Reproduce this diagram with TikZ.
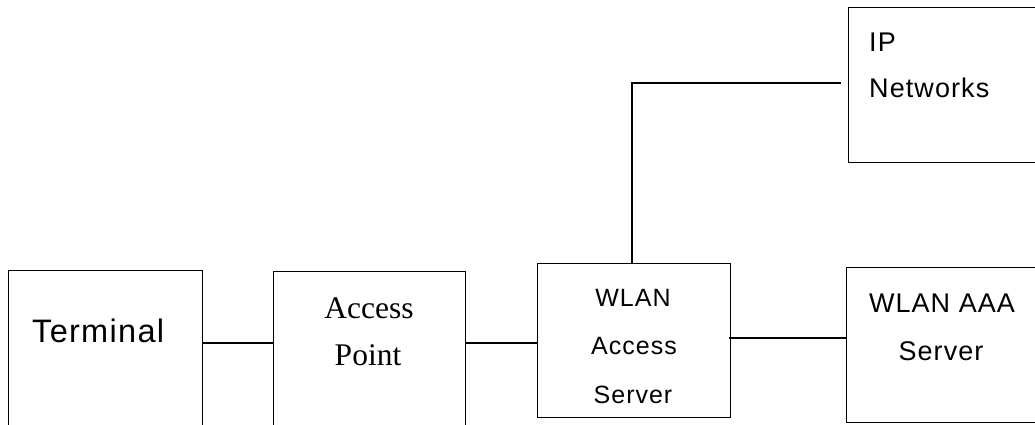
\documentclass[tikz,border=0pt]{standalone}
\usepackage{fontspec}
\setmainfont{Liberation Serif}
\setsansfont{Liberation Sans}[LetterSpace=4]
\begin{document}
\begin{tikzpicture}[x=1pt,y=-1pt,
  box/.style={draw=black,line width=1.3pt,anchor=north west,inner sep=0pt},
  link/.style={draw=black,line width=1.3pt},
  sanslbl/.style={anchor=base,inner sep=0pt,font=\sffamily\fontsize{27}{32}\selectfont},
  wasfont/.style={font=\sffamily\fontsize{25}{30}\selectfont},
  seriflbl/.style={anchor=base,inner sep=0pt,font=\rmfamily\fontsize{31.5}{36}\selectfont}]
\clip (0,0) rectangle (1035,425);
\fill[white] (0,0) rectangle (1035,425);
% boxes
\node[box,minimum width=194pt,minimum height=175pt] (term) at (8,270) {};
\node[box,minimum width=192pt,minimum height=175pt] (ap) at (273,271) {};
\node[box,minimum width=193pt,minimum height=154pt] (was) at (537,263) {};
\node[box,minimum width=205pt,minimum height=155pt] (aaa) at (846,267) {};
\node[box,minimum width=205pt,minimum height=155pt] (ip) at (848,7) {};
% texts
\node[sanslbl,anchor=base west,font=\sffamily\fontsize{32.5}{38}\selectfont] (tTerm) at (32,342) {Terminal};
\node[seriflbl] (tAcc) at (369,318) {Access};
\node[seriflbl] (tPoint) at (368,365) {Point};
\node[sanslbl,wasfont] (tW1) at (633,306) {WLAN};
\node[sanslbl,wasfont] (tW2) at (634,354) {Access};
\node[sanslbl,wasfont] (tW3) at (633,403) {Server};
\node[sanslbl] (tA1) at (942,312) {WLAN AAA};
\node[sanslbl] (tA2) at (941,360) {Server};
\node[sanslbl,anchor=base west] (tI1) at (869,52) {IP};
\node[sanslbl,anchor=base west] (tI2) at (869,98) {Networks};
% connectors
\coordinate (ipend) at (841,83);
\draw[link] (term.east |- 0,343) -- (ap.west |- 0,343);
\draw[link] (ap.east |- 0,343) -- (was.west |- 0,343);
\draw[link] ([xshift=-2pt]was.east |- 0,338) -- (aaa.west |- 0,338);
\draw[link] (was.north -| 632,0) -- (632,83) -- (ipend);
\end{tikzpicture}
\end{document}
